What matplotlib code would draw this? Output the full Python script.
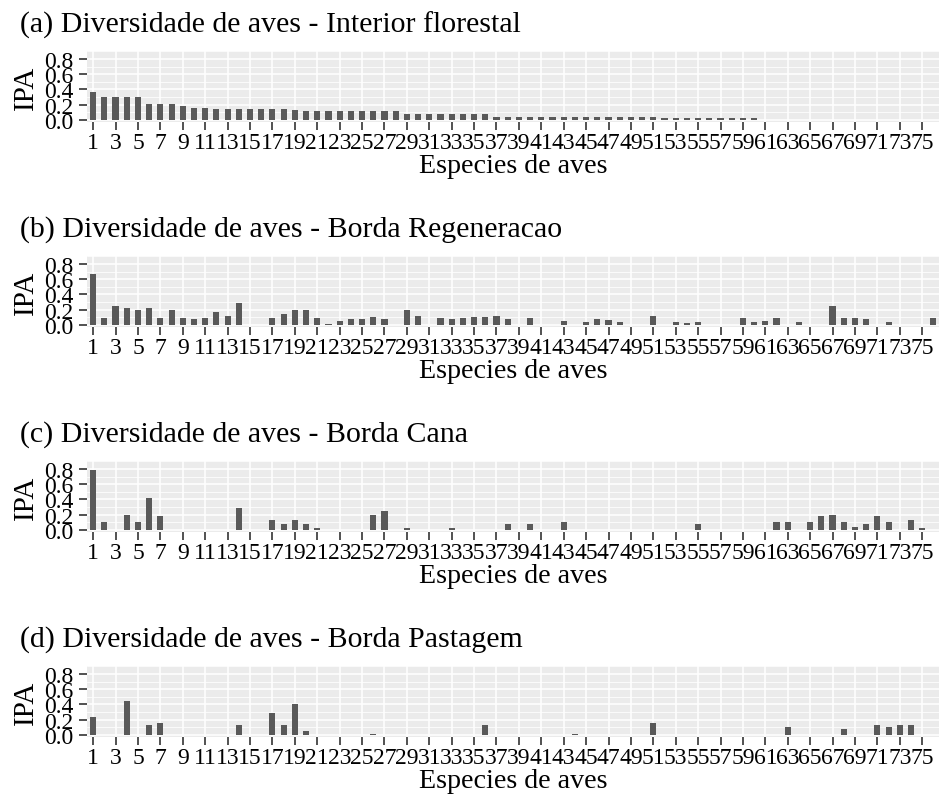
import numpy as np
import matplotlib
matplotlib.use('Agg')
from matplotlib import pyplot as plt
from matplotlib.ticker import MultipleLocator

plt.rcParams['font.family'] = ['Liberation Serif', 'DejaVu Serif']

species = list(range(1, 77))

interior = [0.37, 0.30, 0.30, 0.30, 0.30, 0.21, 0.21, 0.21, 0.18, 0.16,
            0.16, 0.14, 0.14, 0.14, 0.14, 0.14, 0.14, 0.14, 0.13, 0.11,
            0.11, 0.11, 0.11, 0.11, 0.11, 0.11, 0.11, 0.11, 0.075, 0.075,
            0.075, 0.075, 0.075, 0.075, 0.075, 0.075, 0.04, 0.04, 0.04, 0.04,
            0.04, 0.04, 0.04, 0.04, 0.04, 0.04, 0.04, 0.04, 0.04, 0.04,
            0.04, 0.02, 0.02, 0.02, 0.02, 0.02, 0.02, 0.02, 0.02, 0.02,
            0, 0, 0, 0, 0, 0, 0, 0, 0, 0,
            0, 0, 0, 0, 0, 0]

regeneracao = [0.67, 0.09, 0.25, 0.22, 0.20, 0.22, 0.09, 0.20, 0.09, 0.07,
               0.09, 0.17, 0.11, 0.28, 0, 0, 0.09, 0.14, 0.20, 0.20,
               0.09, 0.01, 0.05, 0.07, 0.07, 0.10, 0.07, 0, 0.20, 0.12,
               0, 0.09, 0.07, 0.09, 0.10, 0.10, 0.11, 0.07, 0, 0.09,
               0, 0, 0.05, 0, 0.04, 0.07, 0.06, 0.03, 0, 0,
               0.12, 0, 0.04, 0.02, 0.04, 0, 0, 0, 0.09, 0.04,
               0.05, 0.09, 0, 0.04, 0, 0, 0.25, 0.09, 0.09, 0.07,
               0, 0.03, 0, 0, 0, 0.09]

cana = [0.79, 0.10, 0, 0.20, 0.10, 0.42, 0.18, 0, 0, 0,
        0, 0, 0, 0.28, 0, 0, 0.13, 0.07, 0.13, 0.07,
        0.02, 0, 0, 0, 0, 0.20, 0.24, 0, 0.02, 0,
        0, 0, 0.02, 0, 0, 0, 0, 0.07, 0, 0.07,
        0, 0, 0.10, 0, 0, 0, 0, 0, 0, 0,
        0, 0, 0, 0, 0.07, 0, 0, 0, 0, 0,
        0, 0.10, 0.10, 0, 0.10, 0.18, 0.20, 0.10, 0.04, 0.07,
        0.18, 0.10, 0, 0.13, 0.02, 0]

pastagem = [0.235, 0, 0, 0.44, 0, 0.13, 0.15, 0, 0, 0,
            0, 0, 0, 0.13, 0, 0, 0.29, 0.13, 0.41, 0.05,
            0, 0, 0, 0, 0, 0.01, 0, 0, 0, 0,
            0, 0, 0, 0, 0, 0.13, 0, 0, 0, 0,
            0, 0, 0, 0.01, 0, 0, 0, 0, 0, 0,
            0.16, 0, 0, 0, 0, 0, 0, 0, 0, 0,
            0, 0, 0.10, 0, 0, 0, 0, 0.08, 0, 0,
            0.13, 0.10, 0.13, 0.13, 0, 0]

titles = ['(a) Diversidade de aves - Interior florestal',
          '(b) Diversidade de aves - Borda Regeneracao',
          '(c) Diversidade de aves - Borda Cana',
          '(d) Diversidade de aves - Borda Pastagem']
series = [interior, regeneracao, cana, pastagem]

W, H = 940, 804
fig = plt.figure(figsize=(W / 100, H / 100), dpi=100)

panel_tops = [52, 257, 462, 667]
panel_h = 71
left, right = 87, 939

for k in range(4):
    top = panel_tops[k]
    ax = fig.add_axes([left / W, 1 - (top + panel_h) / H, (right - left) / W, panel_h / H])
    ax.set_facecolor('#EBEBEB')
    ax.bar(species, series[k], width=0.55, color='#595959', zorder=3)
    ax.set_xlim(0.45, 76.5)
    ax.set_ylim(-0.03, 0.905)
    ax.set_xticks(species[::2])
    ax.set_xticklabels([str(s) for s in species[::2]], fontsize=17)
    ax.yaxis.set_minor_locator(MultipleLocator(0.1))
    ax.set_yticks([0, 0.2, 0.4, 0.6, 0.8])
    ax.set_yticklabels(['0.0', '0.2', '0.4', '0.6', '0.8'], fontsize=17)
    ax.grid(which='major', color='white', lw=1.1, zorder=1)
    ax.grid(which='minor', axis='y', color='white', lw=0.55, zorder=1)
    ax.tick_params(which='major', length=6, width=1.2, color='#333333')
    ax.tick_params(axis='x', pad=1)
    ax.tick_params(axis='y', pad=3.5)
    ax.tick_params(which='minor', length=0)
    for s in ax.spines.values():
        s.set_visible(False)
    ax.set_xlabel('Especies de aves', fontsize=20.2, labelpad=0)
    ax.set_ylabel('IPA', fontsize=21, labelpad=4)
    fig.text(20 / W, 1 - (top - 27) / H, titles[k], fontsize=21.5, va='center', ha='left')

fig.savefig('out.png', dpi=100)
